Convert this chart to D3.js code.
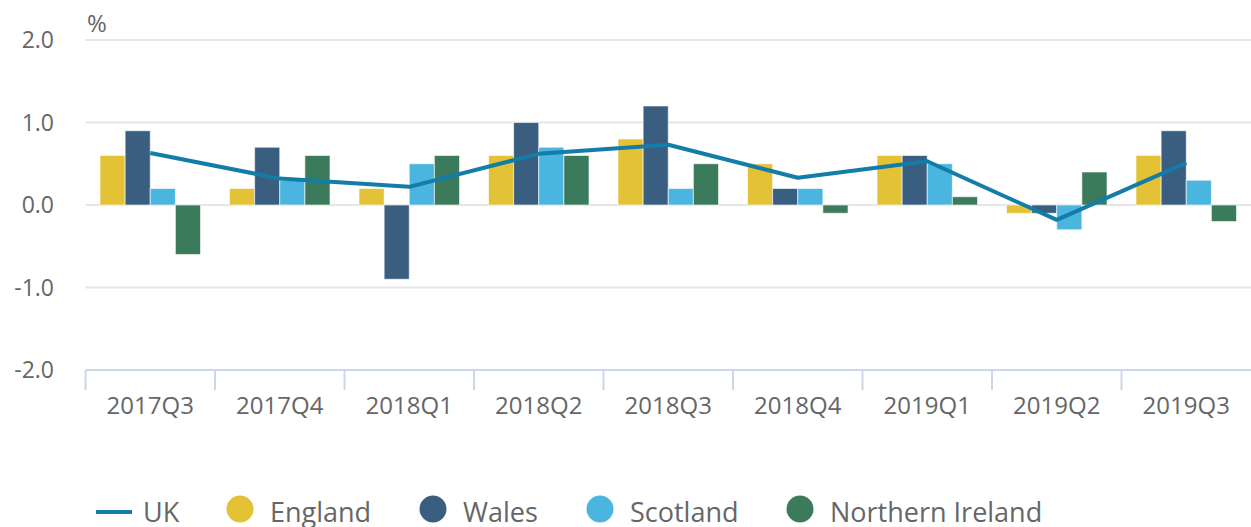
<!DOCTYPE html>
<html><head><meta charset="utf-8">
<script src="https://cdn.jsdelivr.net/npm/d3@7"></script>
<style>
body{margin:0;background:#fff;}
svg{display:block;font-family:"Open Sans",sans-serif;}
</style></head>
<body><svg id="chart" width="1251" height="527"></svg>
<script>
const categories = ["2017Q3","2017Q4","2018Q1","2018Q2","2018Q3","2018Q4","2019Q1","2019Q2","2019Q3"];
const seriesNames = ["England","Wales","Scotland","Northern Ireland"];
const england = [0.6,0.2,0.2,0.6,0.8,0.5,0.6,-0.1,0.6];
const wales = [0.9,0.7,-0.9,1.0,1.2,0.2,0.6,-0.1,0.9];
const scotland = [0.2,0.3,0.5,0.7,0.2,0.2,0.5,-0.3,0.3];
const nireland = [-0.6,0.6,0.6,0.6,0.5,-0.1,0.1,0.4,-0.2];
const uk = [0.63,0.32,0.22,0.62,0.73,0.33,0.53,-0.18,0.51];
const yTicks = [-2,-1,0,1,2];
const yTickLabels = ["-2.0","-1.0","0.0","1.0","2.0"];
const colors = ["#e3c236","#3a5e80","#4ab5de","#3b7a5a"];
const ukColor = "#137ca7";

const seriesValues = [england, wales, scotland, nireland];
const svg = d3.select("#chart");

const x = d3.scaleBand().domain(categories).range([85.5, 1251]).padding(0);
const xs = d3.scaleBand().domain(seriesNames).range([x.bandwidth()*0.112, x.bandwidth()*0.888]).padding(0);
const y = d3.scaleLinear().domain([-2, 2]).range([370, 40]);

// gridlines
svg.append("g").selectAll("line").data(yTicks.filter(t => t > -2)).join("line")
  .attr("x1", 85.5).attr("x2", 1251)
  .attr("y1", d => y(d)).attr("y2", d => y(d))
  .attr("stroke", "#e6e6e6").attr("stroke-width", 2);

// y labels
svg.append("g").selectAll("text").data(yTicks).join("text")
  .attr("x", 54).attr("y", d => y(d) + 8)
  .attr("text-anchor", "end")
  .attr("font-size", 23).attr("fill", "#666")
  .text((d, i) => yTickLabels[i]);

svg.append("text").attr("x", 87).attr("y", 32)
  .attr("font-size", 24).attr("fill", "#666").text("%");

// x axis
const xAxis = d3.axisBottom(x).tickSize(0).tickPadding(0);
const gx = svg.append("g").attr("transform", `translate(0,${y(-2)})`).call(xAxis);
gx.select(".domain").remove();
gx.selectAll(".tick text").attr("font-size", 24).attr("fill", "#666")
  .attr("font-family", "Open Sans, sans-serif").attr("dy", 0).attr("y", 44);
gx.append("line").attr("x1", 85.5).attr("x2", 1251).attr("y1", 0).attr("y2", 0)
  .attr("stroke", "#ccd6eb").attr("stroke-width", 2);
const boundaries = categories.map(c => x(c));
gx.selectAll(".bt").data(boundaries).join("line").attr("class","bt")
  .attr("x1", d => d).attr("x2", d => d).attr("y1", 0).attr("y2", 20)
  .attr("stroke", "#ccd6eb").attr("stroke-width", 2);

// bars
const barData = [];
categories.forEach((c, i) => {
  seriesNames.forEach((s, j) => {
    barData.push({c, s, j, v: seriesValues[j][i]});
  });
});
svg.append("g").selectAll("rect").data(barData).join("rect")
  .attr("x", d => x(d.c) + xs(d.s))
  .attr("width", xs.bandwidth())
  .attr("y", d => y(Math.max(0, d.v)))
  .attr("height", d => Math.abs(y(d.v) - y(0)))
  .attr("fill", d => colors[d.j])
  .attr("stroke", "#fff").attr("stroke-width", 1).attr("stroke-opacity", 0.6);

// UK line
const line = d3.line().x((d, i) => x(categories[i]) + x.bandwidth()/2).y(d => y(d));
svg.append("path").datum(uk).attr("d", line)
  .attr("fill", "none").attr("stroke", ukColor).attr("stroke-width", 4)
  .attr("stroke-linejoin", "round");

// legend
const lg = svg.append("g");
lg.append("line").attr("x1", 96).attr("x2", 132).attr("y1", 512).attr("y2", 512)
  .attr("stroke", ukColor).attr("stroke-width", 4);
lg.append("text").attr("x", 143).attr("y", 522).attr("font-size", 27).attr("fill", "#666").text("UK");
const legX = [240, 433, 600, 800];
seriesNames.forEach((s, j) => {
  lg.append("circle").attr("cx", legX[j]).attr("cy", 509).attr("r", 13.5).attr("fill", colors[j]);
  lg.append("text").attr("x", legX[j] + 30).attr("y", 522).attr("font-size", 27).attr("fill", "#666").text(s);
});
</script></body></html>
